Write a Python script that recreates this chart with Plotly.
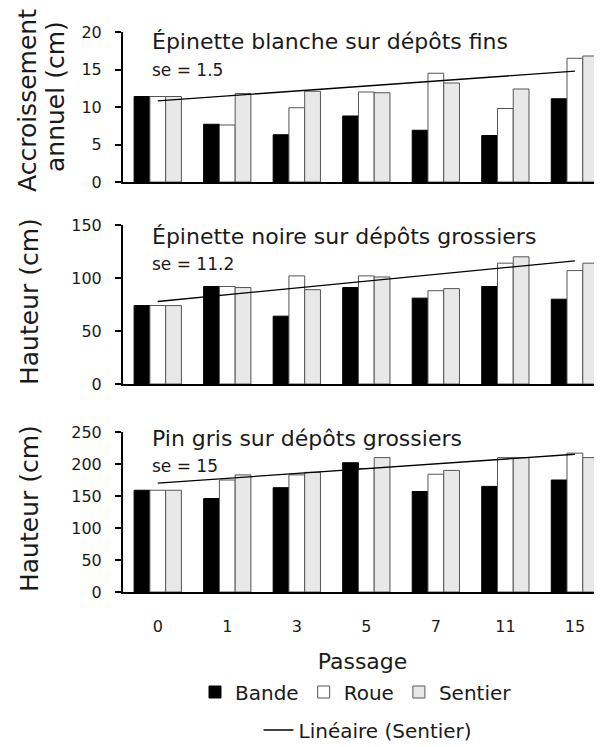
import numpy as np
import plotly.graph_objects as go

# The page body has an 8px margin; the figure is sized to fill the 602x747 window.
OFF = 8
W, H = 602 - OFF, 747 - OFF

categories = ['0', '1', '3', '5', '7', '11', '15']

p1_bande = [11.4, 7.7, 6.3, 8.8, 6.9, 6.2, 11.1]
p1_roue = [11.4, 7.6, 9.9, 12.0, 14.5, 9.8, 16.5]
p1_sentier = [11.4, 11.8, 12.1, 11.9, 13.2, 12.4, 16.8]

p2_bande = [74, 92, 64, 91, 81, 92, 80]
p2_roue = [74, 92, 102, 102, 88, 114, 107]
p2_sentier = [74, 91, 89, 101, 90, 120, 114]

p3_bande = [159, 146, 163, 202, 157, 165, 175]
p3_roue = [159, 175, 183, 193, 184, 210, 217]
p3_sentier = [159, 183, 187, 210, 190, 210, 210]

panel_titles = ['Épinette blanche sur dépôts fins',
                'Épinette noire sur dépôts grossiers',
                'Pin gris sur dépôts grossiers']
panel_se = ['se = 1.5', 'se = 11.2', 'se = 15']
y_ranges = [[0, 20], [0, 150], [0, 250]]
y_dticks = [5, 50, 50]

FONT = 'DejaVu Sans'
TXT = '#1a1a1a'


def px(x):
    return (x - OFF) / W


def py(y):
    return 1 - (y - OFF) / H


# page-pixel layout
panel_px = [(32, 182), (225, 384), (432, 592)]
title_y = [41, 236, 438]
se_y = [70, 264, 466]

fig = go.Figure()

data = [(p1_bande, p1_roue, p1_sentier),
        (p2_bande, p2_roue, p2_sentier),
        (p3_bande, p3_roue, p3_sentier)]

idx = np.arange(len(categories))
for i, (b, r, s) in enumerate(data):
    ya = 'y' if i == 0 else f'y{i+1}'
    xa = 'x' if i == 0 else f'x{i+1}'
    show = (i == 0)
    fig.add_trace(go.Bar(x=categories, y=b, name='Bande', xaxis=xa, yaxis=ya,
                         marker=dict(color='#000000', line=dict(color='#000000', width=1)),
                         showlegend=show, legend='legend', legendgroup='b'))
    fig.add_trace(go.Bar(x=categories, y=r, name='Roue', xaxis=xa, yaxis=ya,
                         marker=dict(color='#ffffff', line=dict(color='#555555', width=1)),
                         showlegend=show, legend='legend', legendgroup='r'))
    fig.add_trace(go.Bar(x=categories, y=s, name='Sentier', xaxis=xa, yaxis=ya,
                         marker=dict(color='#e8e8e8', line=dict(color='#555555', width=1)),
                         showlegend=show, legend='legend', legendgroup='s'))
    slope, inter = np.polyfit(idx, np.array(s, dtype=float), 1)
    trend = inter + slope * idx
    fig.add_trace(go.Scatter(x=categories, y=trend, mode='lines', name='Linéaire (Sentier)',
                             xaxis=xa, yaxis=ya, line=dict(color='#000000', width=1.3),
                             showlegend=show, legend='legend2', legendgroup='t'))

layout = dict(
    template='none',
    width=W, height=H,
    margin=dict(l=0, r=0, t=0, b=0, pad=0, autoexpand=False),
    paper_bgcolor='white', plot_bgcolor='white',
    barmode='group', bargap=0.32, bargroupgap=0,
    font=dict(family=FONT, color=TXT, size=16),
    legend=dict(orientation='h', x=px(356), xanchor='center', y=py(692), yanchor='middle',
                font=dict(size=20, color=TXT), itemwidth=30, traceorder='normal',
                bgcolor='rgba(0,0,0,0)', borderwidth=0),
    legend2=dict(orientation='h', x=px(368), xanchor='center', y=py(730), yanchor='middle',
                 font=dict(size=20, color=TXT), itemwidth=30,
                 bgcolor='rgba(0,0,0,0)', borderwidth=0),
)

for i in range(3):
    top, bot = panel_px[i]
    xk = 'xaxis' if i == 0 else f'xaxis{i+1}'
    yk = 'yaxis' if i == 0 else f'yaxis{i+1}'
    yname = 'y' if i == 0 else f'y{i+1}'
    layout[xk] = dict(
        type='category', categoryorder='array', categoryarray=categories,
        domain=[px(123), 1], range=[-0.5, 6.39], anchor=yname, automargin=False,
        showline=True, linecolor='#000000', linewidth=2,
        showgrid=False, zeroline=False, ticks='',
        showticklabels=(i == 2), tickfont=dict(size=16, color=TXT),
        ticklabelstandoff=19,
    )
    if i == 2:
        layout[xk]['title'] = dict(text='Passage', font=dict(size=22, color=TXT), standoff=18)
    layout[yk] = dict(
        domain=[py(bot), py(top)], range=y_ranges[i], dtick=y_dticks[i],
        anchor='x' if i == 0 else f'x{i+1}', automargin=False,
        showline=True, linecolor='#000000', linewidth=2,
        ticks='outside', ticklen=6, tickcolor='#000000', tickwidth=1.5,
        showgrid=False, zeroline=False,
        tickfont=dict(size=16, color=TXT), ticklabelstandoff=10,
    )

fig.update_layout(**layout)

for i in range(3):
    fig.add_annotation(x=px(150), y=py(title_y[i]), xref='paper', yref='paper',
                       text=panel_titles[i], showarrow=False, xanchor='left', yanchor='middle',
                       font=dict(size=22, color=TXT))
    fig.add_annotation(x=px(150), y=py(se_y[i]), xref='paper', yref='paper',
                       text=panel_se[i], showarrow=False, xanchor='left', yanchor='middle',
                       font=dict(size=17, color=TXT))

# y-axis titles (page pixel centres)
y_title_items = [('Accroissement', 27, 101), ('annuel (cm)', 56, 97),
                 ('Hauteur (cm)', 29, 302), ('Hauteur (cm)', 29, 509)]
for text, cx, cy in y_title_items:
    fig.add_annotation(x=px(cx), y=py(cy), xref='paper', yref='paper',
                       text=text, showarrow=False, textangle=-90,
                       xanchor='center', yanchor='middle',
                       font=dict(size=25, color=TXT))

fig.write_html('out.html')
